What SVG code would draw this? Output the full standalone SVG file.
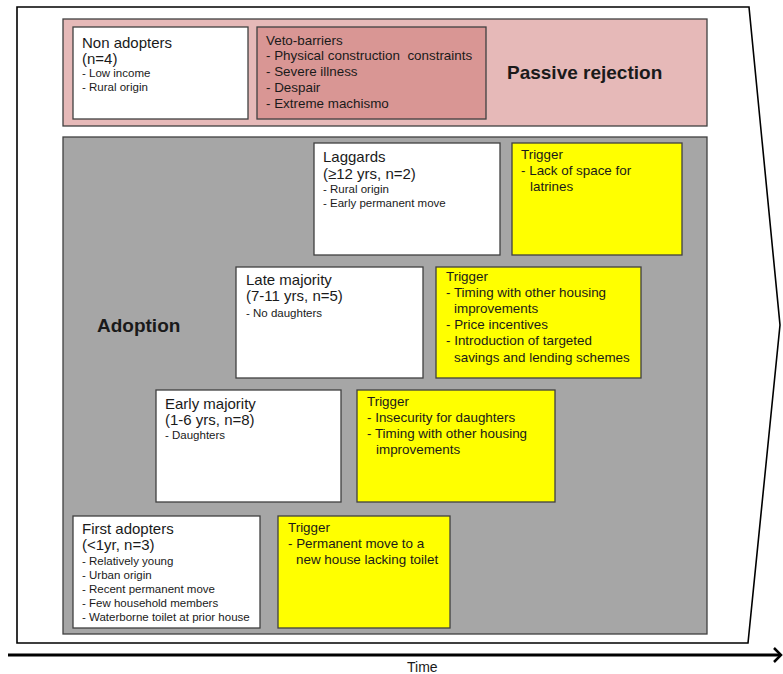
<svg xmlns="http://www.w3.org/2000/svg" width="783" height="674" viewBox="0 0 783 674">
<style>
text{font-family:"Liberation Sans",Arial,sans-serif;fill:#1a1a1a}
.box{stroke:#404040;stroke-width:1.3}
.w{fill:#ffffff}
.y{fill:#ffff00}
.t{font-size:15px}
.s{font-size:11.5px}
.m{font-size:13.4px}
.b{font-size:19px;font-weight:bold}
</style>
<g id="frame">
<polygon points="17,7 749,7 780,325 748,643 17,643" fill="#ffffff" stroke="#000000" stroke-width="1.6"/>
</g>
<g id="passive-rejection">
<rect x="63" y="19" width="644" height="107" fill="#e6b9b8" class="box"/>
<text x="507" y="79" class="b">Passive rejection</text>
</g>
<g id="non-adopters">
<rect x="73" y="27" width="175" height="92" class="box w"/>
<text x="82" y="48" class="t">Non adopters</text>
<text x="82" y="64" class="t">(n=4)</text>
<text x="82" y="77" class="s">- Low income</text>
<text x="82" y="91" class="s">- Rural origin</text>
</g>
<g id="veto-barriers">
<rect x="257" y="27" width="229" height="92" fill="#d99694" class="box"/>
<text x="266" y="45" class="m">Veto-barriers</text>
<text x="266" y="60" class="m" xml:space="preserve">- Physical construction  constraints</text>
<text x="266" y="76" class="m">- Severe illness</text>
<text x="266" y="92" class="m">- Despair</text>
<text x="266" y="108" class="m">- Extreme machismo</text>
</g>
<g id="adoption">
<rect x="63" y="137" width="644" height="497" fill="#a6a6a6" class="box"/>
<text x="97" y="332" class="b">Adoption</text>
</g>
<g id="laggards">
<rect x="314" y="143" width="186" height="112" class="box w"/>
<text x="323" y="162" class="t">Laggards</text>
<text x="323" y="179" class="t">(≥12 yrs, n=2)</text>
<text x="323" y="193" class="s">- Rural origin</text>
<text x="323" y="207" class="s">- Early permanent move</text>
</g>
<g id="trigger-laggards">
<rect x="512" y="143" width="170" height="112" class="box y"/>
<text x="521" y="159" class="m">Trigger</text>
<text x="521" y="175" class="m">- Lack of space for</text>
<text x="530" y="191" class="m">latrines</text>
</g>
<g id="late-majority">
<rect x="236" y="267" width="187" height="111" class="box w"/>
<text x="246" y="285" class="t">Late majority</text>
<text x="246" y="301" class="t">(7-11 yrs, n=5)</text>
<text x="246" y="317" class="s">- No daughters</text>
</g>
<g id="trigger-late-majority">
<rect x="436" y="267" width="205" height="111" class="box y"/>
<text x="446" y="281" class="m">Trigger</text>
<text x="446" y="297" class="m">- Timing with other housing</text>
<text x="454" y="313" class="m">improvements</text>
<text x="446" y="329" class="m">- Price incentives</text>
<text x="446" y="345" class="m">- Introduction of targeted</text>
<text x="454" y="362" class="m">savings and lending schemes</text>
</g>
<g id="early-majority">
<rect x="156" y="390" width="185" height="112" class="box w"/>
<text x="165" y="409" class="t">Early majority</text>
<text x="165" y="425" class="t">(1-6 yrs, n=8)</text>
<text x="165" y="439" class="s">- Daughters</text>
</g>
<g id="trigger-early-majority">
<rect x="357" y="390" width="198" height="112" class="box y"/>
<text x="367" y="406" class="m">Trigger</text>
<text x="367" y="422" class="m">- Insecurity for daughters</text>
<text x="367" y="438" class="m">- Timing with other housing</text>
<text x="376" y="454" class="m">improvements</text>
</g>
<g id="first-adopters">
<rect x="73" y="516" width="187" height="112" class="box w"/>
<text x="82" y="534" class="t">First adopters</text>
<text x="82" y="550" class="t">(&lt;1yr, n=3)</text>
<text x="82" y="565" class="s">- Relatively young</text>
<text x="82" y="579" class="s">- Urban origin</text>
<text x="82" y="593" class="s">- Recent permanent move</text>
<text x="82" y="607" class="s">- Few household members</text>
<text x="82" y="621" class="s">- Waterborne toilet at prior house</text>
</g>
<g id="trigger-first-adopters">
<rect x="278" y="516" width="172" height="112" class="box y"/>
<text x="288" y="532" class="m">Trigger</text>
<text x="288" y="548" class="m">- Permanent move to a</text>
<text x="296" y="564" class="m">new house lacking toilet</text>
</g>
<g id="connectors">
<line x1="8" y1="655" x2="780" y2="655" stroke="#000000" stroke-width="3"/>
<polyline points="774,648 781,655 774,662" fill="none" stroke="#000000" stroke-width="2.5"/>
<text x="407" y="672" style="font-size:14px">Time</text>
</g>
</svg>
